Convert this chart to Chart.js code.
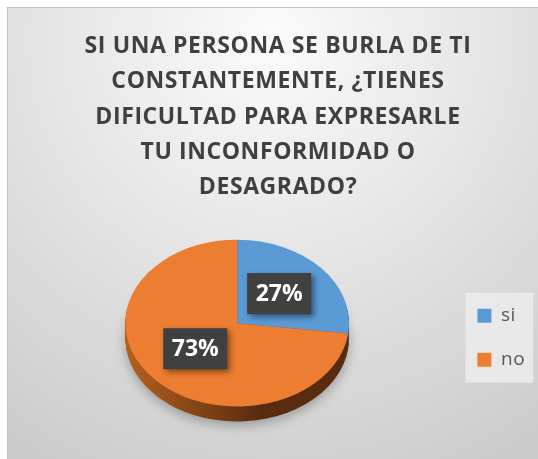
<!DOCTYPE html>
<html>
<head>
<meta charset="utf-8">
<script src="https://cdn.jsdelivr.net/npm/chart.js@4.4.1/dist/chart.umd.min.js"></script>
<style>
  html, body { margin: 0; padding: 0; background: #fff; }
  #wrap { width: 538px; height: 459px; }
</style>
</head>
<body>
<div id="wrap"><canvas id="pieChart" width="538" height="459"></canvas></div>
<script>
/* ====== DATA ====== */
const titleLines = [
    "SI UNA PERSONA SE BURLA DE TI",
    "CONSTANTEMENTE, ¿TIENES",
    "DIFICULTAD PARA EXPRESARLE",
    "TU INCONFORMIDAD O",
    "DESAGRADO?"
];
const labels = ["si", "no"];
const values = [27, 73];
const sliceColors = ["#5b9bd5", "#ed7d31"];
const sideColors = [["#41729f", "#2c5482"], ["#b5601f", "#5a2c0f"]];

const tilt = 0.745;   // vertical squash of the pie
const depth = 15;     // thickness of the 3D rim

/* ====== PLUGINS ====== */
const background = {
    id: "background",
    beforeDraw(chart) {
        const { ctx, width, height } = chart;
        ctx.save();
        ctx.fillStyle = "#fff";
        ctx.fillRect(0, 0, width, height);
        const g = ctx.createRadialGradient(270, 40, 10, 270, 40, 480);
        g.addColorStop(0, "#fafafa");
        g.addColorStop(1, "#cbcbcb");
        ctx.fillStyle = g;
        ctx.fillRect(7.5, 7.5, width, height);
        ctx.strokeStyle = "#bfbfbf";
        ctx.strokeRect(7.5, 7.5, width, height);

        // panel behind the legend
        const hb = chart.legend.legendHitBoxes;
        if (hb && hb.length) {
            const first = hb[0], last = hb[hb.length - 1];
            const x0 = first.left - 12;
            const y0 = first.top + first.height / 2 - 23;
            const y1 = last.top + last.height / 2 + 23;
            ctx.fillStyle = "rgba(236,236,236,0.85)";
            ctx.fillRect(x0, y0, 68, y1 - y0);
        }
        ctx.restore();
        // title / legend text a touch wider, like the original font
        ctx.letterSpacing = "0.6px";
    }
};

function tiltAround(ctx, cy, dy) {
    ctx.translate(0, cy + dy);
    ctx.scale(1, tilt);
    ctx.translate(0, -cy);
}

const pie3d = {
    id: "pie3d",
    beforeDatasetsDraw(chart) {
        const ctx = chart.ctx;
        ctx.letterSpacing = "0px";
        const arcs = chart.getDatasetMeta(0).data;
        const cx = arcs[0].x, cy = arcs[0].y, r = arcs[0].outerRadius;
        for (let d = depth; d > 0; d--) {
            ctx.save();
            tiltAround(ctx, cy, d);
            if (d === depth) {
                ctx.shadowColor = "rgba(0,0,0,0.28)";
                ctx.shadowBlur = 12;
                ctx.shadowOffsetY = 4;
            }
            arcs.forEach((arc, i) => {
                const g = ctx.createLinearGradient(cx - r, 0, cx + r * 0.2, 0);
                g.addColorStop(0, sideColors[i][0]);
                g.addColorStop(1, sideColors[i][1]);
                const orig = arc.options;
                const o = Object.create(orig);
                o.backgroundColor = g;
                o.borderColor = g;
                o.borderWidth = 0;
                arc.options = o;
                arc.draw(ctx);
                arc.options = orig;
            });
            ctx.restore();
        }
        ctx.save();
        tiltAround(ctx, cy, 0);
    },
    afterDatasetsDraw(chart) {
        const ctx = chart.ctx;
        ctx.restore();
        const arcs = chart.getDatasetMeta(0).data;
        arcs.forEach((arc, i) => {
            const p = arc.tooltipPosition();
            const x = p.x, y = arc.y + (p.y - arc.y) * tilt - 2;
            ctx.save();
            ctx.shadowColor = "rgba(0,0,0,0.45)";
            ctx.shadowBlur = 6;
            ctx.shadowOffsetX = 3;
            ctx.shadowOffsetY = 3;
            ctx.fillStyle = "#404040";
            ctx.fillRect(x - 32, y - 20.5, 64, 41);
            ctx.restore();
            ctx.fillStyle = "#fff";
            ctx.font = "bold 23px 'Open Sans'";
            ctx.textAlign = "center";
            ctx.textBaseline = "middle";
            ctx.fillText(values[i] + "%", x, y + 1);
        });
    }
};

/* ====== PIE CHART ====== */
new Chart(document.getElementById("pieChart"), {
    type: "pie",
    data: {
        labels: labels,
        datasets: [{
            data: values,
            backgroundColor: sliceColors,
            borderWidth: 0
        }]
    },
    options: {
        responsive: false,
        animation: false,
        layout: { padding: { left: 22, right: 4, top: 0, bottom: 24 } },
        plugins: {
            tooltip: { enabled: false },
            title: {
                display: true,
                text: titleLines,
                color: "#404040",
                font: { family: "Open Sans", size: 23, weight: "bold", lineHeight: 1.533 },
                padding: { top: 29, bottom: 6 }
            },
            legend: {
                position: "right",
                fullSize: false,
                title: { display: true, text: "", font: { size: 1, lineHeight: 1 }, padding: { top: 0, bottom: 28 } },
                labels: {
                    boxWidth: 14,
                    boxHeight: 14,
                    padding: 25,
                    color: "#595959",
                    font: { family: "Open Sans", size: 19 }
                }
            }
        }
    },
    plugins: [background, pie3d]
});
</script>
</body>
</html>
